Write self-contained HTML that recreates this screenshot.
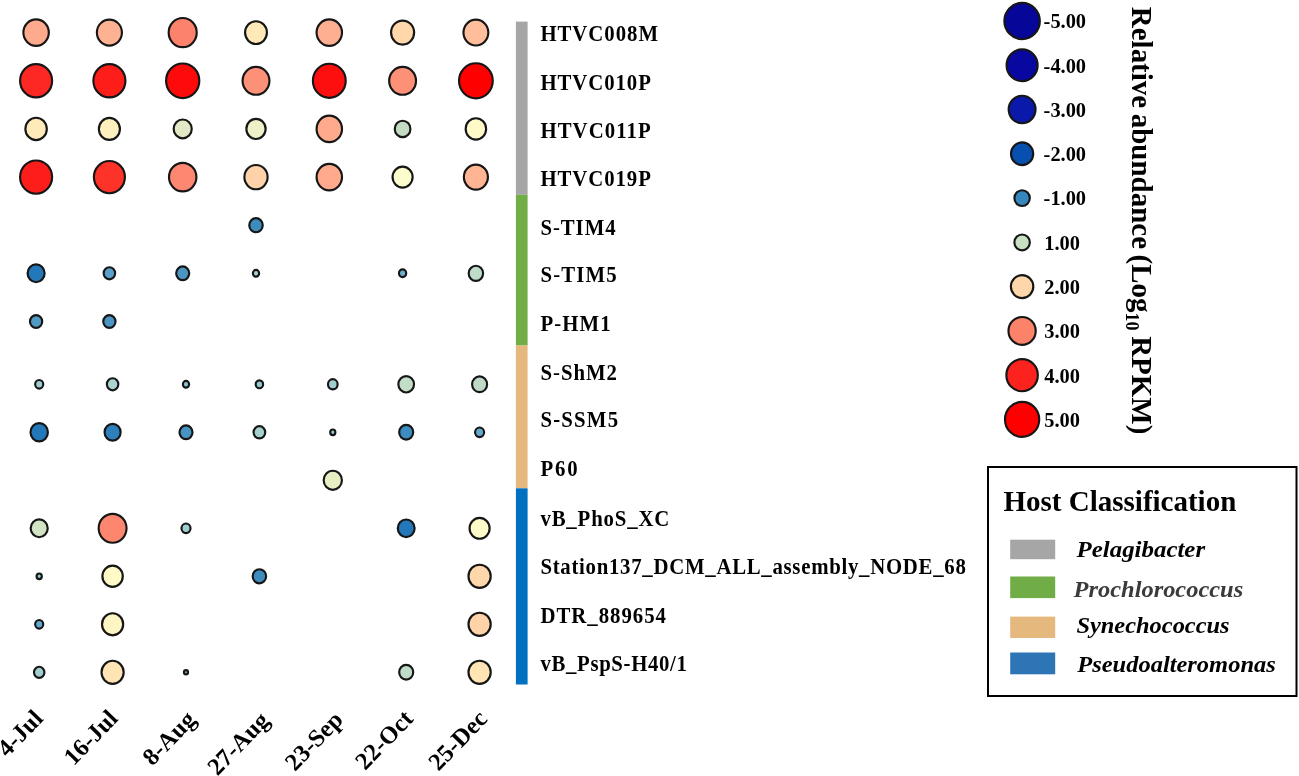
<!DOCTYPE html>
<html lang="en">
<head>
<meta charset="utf-8">
<title>Relative abundance bubble plot</title>
<style>
html,body{margin:0;padding:0;background:#fff;}
body{width:1299px;height:776px;overflow:hidden;}
svg{display:block;}
text{font-family:"Liberation Serif",serif;font-weight:bold;fill:#000;}
.lab{font-size:23.2px;}
.leg{font-size:20.4px;}
.date{font-size:24.5px;}
.host{font-size:23.2px;font-style:italic;}
.title{font-size:29px;}
.axis{font-size:30.4px;word-spacing:-1.75px;}
circle,ellipse{stroke:#161616;stroke-width:2.15;}
</style>
</head>
<body>
<svg width="1299" height="776" viewBox="0 0 1299 776">
<rect x="0" y="0" width="1299" height="776" fill="#ffffff"/>

<g id="bubbles">
<ellipse cx="36.1" cy="32.6" rx="12.72" ry="13.24" fill="#ffaa8c"/>
<ellipse cx="109.4" cy="32.6" rx="12.53" ry="13.04" fill="#ffb291"/>
<ellipse cx="182.7" cy="32.6" rx="14.03" ry="14.58" fill="#fd826c"/>
<ellipse cx="256.0" cy="32.6" rx="10.93" ry="11.39" fill="#ffe9b9"/>
<ellipse cx="329.3" cy="32.6" rx="12.72" ry="13.24" fill="#ffaf91"/>
<ellipse cx="402.6" cy="32.6" rx="11.53" ry="12.01" fill="#ffd7aa"/>
<ellipse cx="475.9" cy="32.6" rx="12.43" ry="12.93" fill="#ffbe9b"/>
<ellipse cx="36.1" cy="80.8" rx="16.02" ry="16.64" fill="#fd2823"/>
<ellipse cx="109.4" cy="80.8" rx="16.02" ry="16.64" fill="#fd1e19"/>
<ellipse cx="182.7" cy="80.8" rx="16.62" ry="17.26" fill="#fd0a0a"/>
<ellipse cx="256.0" cy="80.8" rx="13.43" ry="13.96" fill="#fd9178"/>
<ellipse cx="329.3" cy="80.8" rx="16.42" ry="17.05" fill="#fd0f0f"/>
<ellipse cx="402.6" cy="80.8" rx="13.43" ry="13.96" fill="#fd9178"/>
<ellipse cx="475.9" cy="80.8" rx="16.88" ry="17.52" fill="#ff0000"/>
<ellipse cx="36.1" cy="128.9" rx="10.72" ry="11.18" fill="#ffebb9"/>
<ellipse cx="109.4" cy="128.9" rx="10.53" ry="10.98" fill="#fff0be"/>
<ellipse cx="182.7" cy="128.9" rx="9.03" ry="9.43" fill="#e1e8c3"/>
<ellipse cx="256.0" cy="128.9" rx="9.62" ry="10.05" fill="#eef0c8"/>
<ellipse cx="329.3" cy="128.9" rx="12.72" ry="13.24" fill="#ffaa8c"/>
<ellipse cx="402.6" cy="128.9" rx="7.83" ry="8.20" fill="#c3dac3"/>
<ellipse cx="475.9" cy="128.9" rx="10.22" ry="10.67" fill="#fffac8"/>
<ellipse cx="36.1" cy="177.1" rx="16.02" ry="16.64" fill="#fd1e1c"/>
<ellipse cx="109.4" cy="177.1" rx="15.52" ry="16.13" fill="#fd3228"/>
<ellipse cx="182.7" cy="177.1" rx="13.72" ry="14.27" fill="#fd8770"/>
<ellipse cx="256.0" cy="177.1" rx="11.62" ry="12.11" fill="#ffd2aa"/>
<ellipse cx="329.3" cy="177.1" rx="12.72" ry="13.24" fill="#ffaa8c"/>
<ellipse cx="402.6" cy="177.1" rx="10.03" ry="10.46" fill="#fcfdcd"/>
<ellipse cx="475.9" cy="177.1" rx="12.03" ry="12.52" fill="#ffb494"/>
<ellipse cx="256.0" cy="225.2" rx="6.73" ry="7.06" fill="#3c8cbe"/>
<ellipse cx="36.1" cy="273.3" rx="8.53" ry="8.92" fill="#2378b9"/>
<ellipse cx="109.4" cy="273.3" rx="5.73" ry="6.03" fill="#5aa0c8"/>
<ellipse cx="182.7" cy="273.3" rx="6.53" ry="6.86" fill="#4b96c3"/>
<ellipse cx="256.0" cy="273.3" rx="3.12" ry="3.35" fill="#a5d2d7"/>
<ellipse cx="402.6" cy="273.3" rx="3.62" ry="3.87" fill="#6eafcd"/>
<ellipse cx="475.9" cy="273.3" rx="7.22" ry="7.58" fill="#bedcc8"/>
<ellipse cx="36.1" cy="321.5" rx="6.12" ry="6.44" fill="#509bc3"/>
<ellipse cx="109.4" cy="321.5" rx="6.12" ry="6.44" fill="#4b96c3"/>
<ellipse cx="39.2" cy="384.3" rx="4.03" ry="4.28" fill="#a0cdd2"/>
<ellipse cx="112.6" cy="384.3" rx="5.73" ry="6.03" fill="#aad4d0"/>
<ellipse cx="186.0" cy="384.3" rx="3.12" ry="3.35" fill="#8cc3d2"/>
<ellipse cx="259.4" cy="384.3" rx="3.73" ry="3.97" fill="#96c8d2"/>
<ellipse cx="332.8" cy="384.3" rx="4.83" ry="5.10" fill="#a0cdd0"/>
<ellipse cx="406.2" cy="384.3" rx="7.83" ry="8.20" fill="#c3dec6"/>
<ellipse cx="479.6" cy="384.3" rx="7.52" ry="7.89" fill="#bedac6"/>
<ellipse cx="39.2" cy="432.3" rx="8.72" ry="9.12" fill="#2378b9"/>
<ellipse cx="112.6" cy="432.3" rx="8.03" ry="8.40" fill="#2d80bc"/>
<ellipse cx="186.0" cy="432.3" rx="6.53" ry="6.86" fill="#4694c3"/>
<ellipse cx="259.4" cy="432.3" rx="5.83" ry="6.13" fill="#a5d0cd"/>
<ellipse cx="332.8" cy="432.3" rx="2.58" ry="2.79" fill="#96cdd7"/>
<ellipse cx="406.2" cy="432.3" rx="7.02" ry="7.37" fill="#3c8cc0"/>
<ellipse cx="479.6" cy="432.3" rx="4.53" ry="4.80" fill="#64a8ca"/>
<ellipse cx="332.8" cy="480.3" rx="9.12" ry="9.53" fill="#e6eec3"/>
<ellipse cx="39.2" cy="528.3" rx="8.53" ry="8.92" fill="#d2e4c3"/>
<ellipse cx="112.6" cy="528.3" rx="13.93" ry="14.48" fill="#fd876e"/>
<ellipse cx="186.0" cy="528.3" rx="4.53" ry="4.80" fill="#a0cdd0"/>
<ellipse cx="406.2" cy="528.3" rx="8.43" ry="8.81" fill="#2378b9"/>
<ellipse cx="479.6" cy="528.3" rx="10.03" ry="10.46" fill="#fffcc8"/>
<ellipse cx="39.2" cy="576.3" rx="2.62" ry="2.84" fill="#96c8d4"/>
<ellipse cx="112.6" cy="576.3" rx="10.18" ry="10.62" fill="#fffac6"/>
<ellipse cx="259.4" cy="576.3" rx="6.73" ry="7.06" fill="#3c8cbe"/>
<ellipse cx="479.6" cy="576.3" rx="11.12" ry="11.59" fill="#ffd7aa"/>
<ellipse cx="39.2" cy="624.3" rx="4.03" ry="4.28" fill="#64a8cd"/>
<ellipse cx="112.6" cy="624.3" rx="10.58" ry="11.03" fill="#fff5c3"/>
<ellipse cx="479.6" cy="624.3" rx="11.12" ry="11.59" fill="#ffd2a8"/>
<ellipse cx="39.2" cy="672.3" rx="5.23" ry="5.52" fill="#a0cdcd"/>
<ellipse cx="112.6" cy="672.3" rx="11.08" ry="11.54" fill="#ffe4b4"/>
<ellipse cx="186.0" cy="672.3" rx="2.03" ry="2.22" fill="#78b4cd"/>
<ellipse cx="406.2" cy="672.3" rx="7.02" ry="7.37" fill="#bedcc8"/>
<ellipse cx="479.6" cy="672.3" rx="11.12" ry="11.59" fill="#ffe4b4"/>
</g>
<g id="hostbar">
<rect x="515.9" y="21.6" width="11.7" height="173.2" fill="#a6a6a6"/>
<rect x="515.9" y="194.8" width="11.7" height="150.7" fill="#70ad47"/>
<rect x="515.9" y="345.5" width="11.7" height="142.8" fill="#e5b87e"/>
<rect x="515.9" y="488.3" width="11.7" height="196.2" fill="#0070c0"/>
</g>
<g id="labels">
<text class="lab" style="letter-spacing:1.072px" transform="translate(540.4 41.4) scale(0.897 1)">HTVC008M</text>
<text class="lab" style="letter-spacing:1.043px" transform="translate(540.4 90.4) scale(0.897 1)">HTVC010P</text>
<text class="lab" style="letter-spacing:1.187px" transform="translate(540.4 138.1) scale(0.897 1)">HTVC011P</text>
<text class="lab" style="letter-spacing:1.043px" transform="translate(540.4 186.2) scale(0.897 1)">HTVC019P</text>
<text class="lab" style="letter-spacing:1.061px" transform="translate(540.4 235.2) scale(0.897 1)">S<tspan font-weight="normal">-</tspan>TIM4</text>
<text class="lab" style="letter-spacing:1.301px" transform="translate(540.4 282.4) scale(0.897 1)">S<tspan font-weight="normal">-</tspan>TIM5</text>
<text class="lab" style="letter-spacing:1.251px" transform="translate(540.4 330.6) scale(0.897 1)">P<tspan font-weight="normal">-</tspan>HM1</text>
<text class="lab" style="letter-spacing:1.101px" transform="translate(540.4 379.6) scale(0.897 1)">S<tspan font-weight="normal">-</tspan>ShM2</text>
<text class="lab" style="letter-spacing:1.341px" transform="translate(540.4 427.3) scale(0.897 1)">S-SSM5</text>
<text class="lab" style="letter-spacing:2.104px" transform="translate(540.4 475.5) scale(0.897 1)">P60</text>
<text class="lab" style="letter-spacing:0.945px" transform="translate(540.4 525.9) scale(0.897 1)">vB_PhoS_XC</text>
<text class="lab" style="letter-spacing:0.806px" transform="translate(540.4 573.8) scale(0.897 1)">Station137_DCM_ALL_assembly_NODE_68</text>
<text class="lab" style="letter-spacing:1.101px" transform="translate(540.4 623.1) scale(0.897 1)">DTR_889654</text>
<text class="lab" style="letter-spacing:0.733px" transform="translate(540.4 671.4) scale(0.897 1)">vB_PspS-H40/1</text>
</g>
<g id="dates">
<text class="date" text-anchor="end" transform="translate(44.2 719.7) rotate(-46)">4-Jul</text>
<text class="date" text-anchor="end" transform="translate(119.1 719.5) rotate(-46)">16-Jul</text>
<text class="date" text-anchor="end" transform="translate(196.9 720.8) rotate(-46)">8-Aug</text>
<text class="date" text-anchor="end" transform="translate(270.4 721.6) rotate(-46)">27-Aug</text>
<text class="date" text-anchor="end" transform="translate(344.1 721.0) rotate(-46)">23-Sep</text>
<text class="date" text-anchor="end" transform="translate(414.5 720.0) rotate(-46)">22-Oct</text>
<text class="date" text-anchor="end" transform="translate(488.6 720.0) rotate(-46)">25-Dec</text>
</g>
<g id="sizelegend">
<ellipse cx="1022.1" cy="21.0" rx="17.73" ry="18.10" fill="#060698"/>
<text class="leg" x="1043.6" y="28.3">-5.00</text>
<ellipse cx="1022.1" cy="65.3" rx="15.52" ry="15.86" fill="#0808a0"/>
<text class="leg" x="1043.6" y="72.6">-4.00</text>
<ellipse cx="1022.1" cy="109.5" rx="13.43" ry="13.72" fill="#0a19aa"/>
<text class="leg" x="1043.6" y="116.8">-3.00</text>
<ellipse cx="1022.1" cy="153.8" rx="11.12" ry="11.37" fill="#0850b0"/>
<text class="leg" x="1043.6" y="161.1">-2.00</text>
<ellipse cx="1022.1" cy="198.1" rx="7.72" ry="7.90" fill="#3488be"/>
<text class="leg" x="1043.6" y="205.4">-1.00</text>
<ellipse cx="1022.1" cy="242.4" rx="7.72" ry="7.90" fill="#c8e1c3"/>
<text class="leg" x="1044.2" y="249.7">1.00</text>
<ellipse cx="1022.1" cy="286.6" rx="11.22" ry="11.47" fill="#fdd7aa"/>
<text class="leg" x="1044.2" y="293.9">2.00</text>
<ellipse cx="1022.1" cy="330.9" rx="13.62" ry="13.92" fill="#fc8269"/>
<text class="leg" x="1044.2" y="338.2">3.00</text>
<ellipse cx="1022.1" cy="375.2" rx="15.73" ry="16.06" fill="#fc231e"/>
<text class="leg" x="1044.2" y="382.5">4.00</text>
<ellipse cx="1022.1" cy="419.4" rx="17.12" ry="17.49" fill="#ff0000"/>
<text class="leg" x="1044.2" y="426.7">5.00</text>
<text class="axis" transform="translate(1131.6 6.8) rotate(90) scale(0.9535 1)">Relative abundance (Log<tspan font-size="19" dy="6">10</tspan><tspan dy="-6"> RPKM)</tspan></text>
</g>
<g id="hostlegend">
<rect x="988" y="467" width="308.5" height="229" fill="#fff" stroke="#000" stroke-width="2"/>
<text class="title" x="1003.5" y="511.4">Host Classification</text>
<rect x="1010.2" y="539.7" width="45" height="19.5" fill="#a6a6a6"/>
<text class="host" x="1076.6" y="557.2" textLength="128.5" lengthAdjust="spacingAndGlyphs">Pelagibacter</text>
<rect x="1010.2" y="576.5" width="45" height="21.6" fill="#70ad47"/>
<text class="host" x="1073.6" y="596.8" textLength="169.6" lengthAdjust="spacingAndGlyphs" style="fill:#3b3b3b">Prochlorococcus</text>
<rect x="1010.2" y="616.6" width="45" height="21.4" fill="#e5b87e"/>
<text class="host" x="1076.4" y="632.6" textLength="153.2" lengthAdjust="spacingAndGlyphs">Synechococcus</text>
<rect x="1010.2" y="652.5" width="45" height="21.8" fill="#2e75b6"/>
<text class="host" x="1077.2" y="672.0" textLength="198.6" lengthAdjust="spacingAndGlyphs">Pseudoalteromonas</text>
</g>
</svg>
</body>
</html>
